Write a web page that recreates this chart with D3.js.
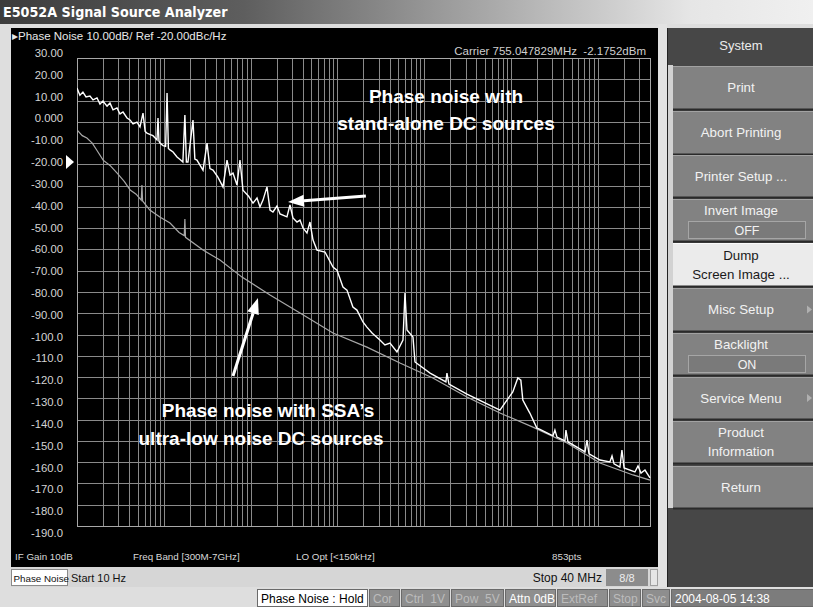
<!DOCTYPE html>
<html>
<head>
<meta charset="utf-8">
<script src="https://cdn.jsdelivr.net/npm/d3@7"></script>
<style>
  body { margin: 0; background: #dedede; overflow: hidden; }
  svg { display: block; }
  text { font-family: "Liberation Sans", Arial, sans-serif; }
</style>
</head>
<body>
<div id="chart"></div>
<script>
// sweep / scale settings
var freqStart = 10;
var freqStop = 4e7;
var refLevels = [30, 20, 10, 0, -10, -20, -30, -40, -50, -60, -70, -80, -90,
  -100, -110, -120, -130, -140, -150, -160, -170, -180, -190];
var refLabels = ["30.00", "20.00", "10.00", "0.000", "-10.00", "-20.00", "-30.00",
  "-40.00", "-50.00", "-60.00", "-70.00", "-80.00", "-90.00", "-100.0", "-110.0",
  "-120.0", "-130.0", "-140.0", "-150.0", "-160.0", "-170.0", "-180.0", "-190.0"];
var refValue = -20;

// trace 1: stand-alone DC sources (white)
var aloneFreq = [10, 10.8, 11.7, 12.7, 14.1, 15.3, 17, 18.4, 19.9, 22.2, 24, 26, 28.9, 31.3, 33.9,
  37.7, 40.8, 44.2, 49.1, 53.2, 57.6, 61, 64, 70, 75, 83.5, 85.8, 88, 90.4, 98, 105, 109, 113,
  118, 128, 142, 154, 166, 175, 182, 190, 217, 228, 241, 283, 315, 340, 369, 420, 481, 535, 580,
  627, 697, 755, 817, 950, 1066, 1186, 1283, 1390, 1545, 1675, 1811, 2015, 2183, 2625, 2843,
  3077, 3425, 3710, 4018, 4463, 4832, 5240, 5821, 7200, 8896, 9890, 11600, 12900, 15100, 16800,
  19700, 21900, 25100, 30900, 35300, 40400, 48600, 57000, 60100, 63400, 74300, 78400, 117000,
  178000, 183000, 193000, 311000, 747000, 899000, 1.05e6, 1.2e6, 1.3e6, 1.37e6, 1.53e6, 1.65e6,
  1.99e6, 2.16e6, 3.05e6, 3.21e6, 3.39e6, 4.19e6, 4.3e6, 4.54e6, 7.13e6, 7.52e6, 7.93e6, 1.06e7,
  1.38e7, 1.46e7, 1.54e7, 1.8e7, 1.9e7, 2.01e7, 2.68e7, 2.91e7, 3.15e7, 3.5e7, 4e7];
var aloneDb = [15.9, 12.5, 14.0, 11.7, 12.1, 10.3, 11.2, 8.4, 9.8, 7.4, 8.8, 5.6, 6.5, 3.7, 4.6,
  1.8, 0.9, -1.0, -0.1, -2.4, 4.1, -4.5, -5.3, -6.0, -6.5, -8.5, 1.8, -9.0, -10.0, -11.2, -11.5, 13.5, -12.5,
  -13.2, -14.2, -16.5, -17.7, -18.9, 3.2, -18.9, -18.9, 0.8, -17.5, -18.0, -22.7, -10.0, -22.0, -22.7, -26.0, -30.6, -18.0, -25.0,
  -24.1, -29.7, -18.0, -32.1, -35.0, -38.2, -35.8, -40.0, -36.8, -30.6, -41.5, -42.4, -39.6, -43.3, -44.7, -39.1,
  -45.2, -47.1, -46.2, -49.9, -52.3, -47.1, -55.6, -60.3, -61.2, -68.3, -69.7, -77.7, -79.1, -87.1, -88.5,
  -94.1, -96.5, -99.3, -102.6, -104.9, -104.0, -108.2, -102.6, -80.5, -97.9, -101.2, -112.9, -118.1,
  -122.3, -118.1, -123.3, -128.0, -135.5, -130.8, -127.0, -120.4, -121.4, -130.8, -134.5, -136.9,
  -144.0, -144.6, -147.6, -144.9, -148.2, -150.0, -144.9, -150.5, -155.2, -149.6, -156.1, -159.0,
  -159.9, -157.1, -160.8, -162.3, -154.3, -162.7, -164.6, -161.8, -165.1, -163.7, -167.4];

// trace 2: SSA's ultra-low noise DC sources (grey)
var ssaFreq = [10, 11.5, 13, 15, 17, 20, 24, 29, 35, 41, 48, 55, 56, 57, 69, 90, 118, 150, 172,
  175, 178, 283, 444, 796, 1675, 3710, 8900, 21900, 52600, 126000, 311000, 747000, 1.79e6,
  4.42e6, 1.06e7, 2.55e7, 4e7];
var ssaDb = [-3.8, -6.5, -7.6, -10.0, -13.5, -18.0, -20.5, -24.1, -28.0, -32.1, -34.0, -36.8, -29.7,
  -37.2, -41.5, -44.7, -47.6, -52.0, -53.5, -45.7, -54.3, -60.3, -65.0, -73.0, -81.4, -89.9, -99.3,
  -105.9, -113.4, -120.4, -129.4, -136.9, -143.5, -151.0, -160.4, -166.0, -168.4];

var W = 813, H = 607;
var plot = { left: 77, right: 650, top: 58, bottom: 526 };

var svg = d3.select("div#chart")
  .append("svg")
  .attr("width", W)
  .attr("height", H);

var defs = svg.append("defs");
var grad = defs.append("linearGradient").attr("id", "titlebar").attr("x1", 0).attr("x2", 1);
grad.append("stop").attr("offset", 0).attr("stop-color", "#3c3c3c");
grad.append("stop").attr("offset", 0.3).attr("stop-color", "#5e5e5e");
grad.append("stop").attr("offset", 0.85).attr("stop-color", "#e6e6e6");
grad.append("stop").attr("offset", 1).attr("stop-color", "#f0f0f0");
defs.append("clipPath").attr("id", "plotclip")
  .append("rect")
  .attr("x", plot.left).attr("y", plot.top - 40)
  .attr("width", plot.right - plot.left + 1).attr("height", plot.bottom - plot.top + 40);

// title bar
svg.append("rect").attr("width", W).attr("height", 24).attr("fill", "url(#titlebar)");
svg.append("text")
  .attr("x", 3).attr("y", 17)
  .style("font-family", "'DejaVu Sans Condensed', 'DejaVu Sans', sans-serif")
  .style("font-weight", "bold")
  .style("font-size", "14.2px")
  .attr("fill", "#ffffff")
  .text("E5052A Signal Source Analyzer");

// black measurement screen
svg.append("rect").attr("x", 11).attr("y", 28).attr("width", 647).attr("height", 539).attr("fill", "#000");

var x = d3.scaleLog().domain([freqStart, freqStop]).range([plot.left, plot.right]);
var y = d3.scaleLinear().domain([30, -190]).range([plot.top, plot.bottom]);
// the level labels are spread slightly wider than the grid on this screen
var yLabel = d3.scaleLinear().domain([30, -190]).range([53, 533]);

var grid = svg.append("g").attr("stroke", "#8a8a8a").attr("stroke-width", 1).attr("shape-rendering", "crispEdges");
grid.selectAll("line.v")
  .data(x.ticks())
  .enter().append("line")
  .attr("class", "v")
  .attr("x1", function (d) { return Math.round(x(d)) + 0.5; })
  .attr("x2", function (d) { return Math.round(x(d)) + 0.5; })
  .attr("y1", plot.top).attr("y2", plot.bottom);
grid.selectAll("line.h")
  .data(refLevels)
  .enter().append("line")
  .attr("class", "h")
  .attr("x1", plot.left).attr("x2", plot.right)
  .attr("y1", function (d) { return Math.round(y(d)) + 0.5; })
  .attr("y2", function (d) { return Math.round(y(d)) + 0.5; });
svg.append("rect")
  .attr("x", plot.left + 0.5).attr("y", plot.top + 0.5)
  .attr("width", plot.right - plot.left).attr("height", plot.bottom - plot.top)
  .attr("fill", "none").attr("stroke", "#a8a8a8");

// level labels
svg.append("g").selectAll("text")
  .data(refLevels)
  .enter().append("text")
  .attr("x", 63)
  .attr("y", function (d) { return yLabel(d) + 4; })
  .attr("text-anchor", "end")
  .attr("fill", "#d4d4d4")
  .style("font-size", "11.3px")
  .text(function (d, i) { return refLabels[i]; });

// reference position marker
var ry = yLabel(refValue);
svg.append("path")
  .attr("d", "M66," + (ry - 7) + "L74," + ry + "L66," + (ry + 7) + "Z")
  .attr("fill", "#fff");

// header texts
svg.append("text").attr("x", 12).attr("y", 40).attr("fill", "#e8e8e8").style("font-size", "11.5px")
  .text("\u25B8Phase Noise 10.00dB/ Ref -20.00dBc/Hz");
svg.append("text").attr("x", 646).attr("y", 55).attr("text-anchor", "end").attr("fill", "#cfcfcf").style("font-size", "11.5px")
  .text("Carrier 755.047829MHz\u00a0\u00a0-2.1752dBm");

// traces
var traceLine = d3.line()
  .x(function (d) { return x(d[0]); })
  .y(function (d) { return y(d[1]); });

var traces = svg.append("g").attr("clip-path", "url(#plotclip)");
traces.append("path")
  .datum(d3.zip(ssaFreq, ssaDb))
  .attr("d", traceLine)
  .attr("fill", "none")
  .attr("stroke", "#a8a8a8")
  .attr("stroke-width", 1.2);
traces.append("path")
  .datum(d3.zip(aloneFreq, aloneDb))
  .attr("d", traceLine)
  .attr("fill", "none")
  .attr("stroke", "#ffffff")
  .attr("stroke-width", 1.4);

// annotations
function arrow(f0, d0, f1, d1) {
  var x0 = x(f0), y0 = y(d0), x1 = x(f1), y1 = y(d1);
  var a = Math.atan2(y1 - y0, x1 - x0), len = 16, half = 6;
  var bx = x1 - len * Math.cos(a), by = y1 - len * Math.sin(a);
  svg.append("line").attr("x1", x0).attr("y1", y0).attr("x2", bx).attr("y2", by)
    .attr("stroke", "#fff").attr("stroke-width", 3);
  svg.append("path")
    .attr("d", "M" + x1 + "," + y1 +
      "L" + (bx + half * Math.sin(a)) + "," + (by - half * Math.cos(a)) +
      "L" + (bx - half * Math.sin(a)) + "," + (by + half * Math.cos(a)) + "Z")
    .attr("fill", "#fff");
}
arrow(21300, -34.9, 2700, -37.7);
arrow(627, -119.5, 1216, -82.8);

var note = svg.append("g")
  .attr("fill", "#fff")
  .attr("text-anchor", "middle")
  .style("font-family", "'DejaVu Sans Condensed', 'Liberation Sans Narrow', sans-serif")
  .style("font-weight", "bold")
  .style("font-size", "19px");
note.append("text").attr("x", 446).attr("y", 103).text("Phase noise with");
note.append("text").attr("x", 446).attr("y", 130).text("stand-alone DC sources");
note.append("text").attr("x", 268).attr("y", 417).text("Phase noise with SSA\u2019s");
note.append("text").attr("x", 261).attr("y", 445).text("ultra-low noise DC sources");

// bottom info line of the screen
var info = svg.append("g").attr("fill", "#d8d8d8").style("font-size", "9.8px");
info.append("text").attr("x", 15).attr("y", 560).text("IF Gain 10dB");
info.append("text").attr("x", 133).attr("y", 560).text("Freq Band [300M-7GHz]");
info.append("text").attr("x", 296).attr("y", 560).text("LO Opt [<150kHz]");
info.append("text").attr("x", 552).attr("y", 560).text("853pts");

// channel status line
svg.append("rect").attr("x", 11).attr("y", 567).attr("width", 656).attr("height", 20).attr("fill", "#d6d6d6");
svg.append("rect").attr("x", 11.5).attr("y", 569.5).attr("width", 56).attr("height", 16)
  .attr("fill", "#fff").attr("stroke", "#8a8a8a");
var stat = svg.append("g").attr("fill", "#111").style("font-size", "11px");
stat.append("text").attr("x", 13.5).attr("y", 582).style("font-size", "9.8px").text("Phase Noise");
stat.append("text").attr("x", 71).attr("y", 582).text("Start 10 Hz");
stat.append("text").attr("x", 602).attr("y", 582).attr("text-anchor", "end").style("font-size", "12px").text("Stop 40 MHz");
svg.append("rect").attr("x", 606).attr("y", 569).attr("width", 42).attr("height", 17).attr("fill", "#8c8c8c");
svg.append("text").attr("x", 627).attr("y", 582).attr("text-anchor", "middle").attr("fill", "#eee")
  .style("font-size", "11px").text("8/8");
svg.append("rect").attr("x", 650.5).attr("y", 569.5).attr("width", 7).attr("height", 16)
  .attr("fill", "#e6e6e6").attr("stroke", "#a0a0a0");

// soft key panel
svg.append("rect").attr("x", 658).attr("y", 24).attr("width", 9).attr("height", 563).attr("fill", "#e2e2e2");
svg.append("rect").attr("x", 667).attr("y", 28).attr("width", 146).attr("height", 559).attr("fill", "#474747");
svg.append("rect").attr("x", 667).attr("y", 65).attr("width", 6).attr("height", 443).attr("fill", "#d2d2d2");
svg.append("line").attr("x1", 667.5).attr("x2", 667.5).attr("y1", 28).attr("y2", 587).attr("stroke", "#222");
svg.append("text").attr("x", 741).attr("y", 50).attr("text-anchor", "middle").attr("fill", "#ececec")
  .style("font-size", "13px").text("System");

var keys = [
  { lines: ["Print"], top: 66, bottom: 109 },
  { lines: ["Abort Printing"], top: 111, bottom: 154 },
  { lines: ["Printer Setup ..."], top: 155, bottom: 197 },
  { lines: ["Invert Image"], box: "OFF", top: 199, bottom: 241 },
  { lines: ["Dump", "Screen Image ..."], top: 243, bottom: 286, lit: true },
  { lines: ["Misc Setup"], more: true, top: 288, bottom: 331 },
  { lines: ["Backlight"], box: "ON", top: 333, bottom: 375 },
  { lines: ["Service Menu"], more: true, top: 377, bottom: 419 },
  { lines: ["Product", "Information"], top: 421, bottom: 463 },
  { lines: ["Return"], top: 466, bottom: 508 }
];

var key = svg.append("g").selectAll("g")
  .data(keys)
  .enter().append("g");
key.append("rect")
  .attr("x", 673).attr("y", function (d) { return d.top; })
  .attr("width", 140).attr("height", function (d) { return d.bottom - d.top; })
  .attr("fill", function (d) { return d.lit ? "#ebebeb" : "#828282"; });
key.append("line")
  .attr("x1", 673).attr("x2", 813)
  .attr("y1", function (d) { return d.top + 0.5; }).attr("y2", function (d) { return d.top + 0.5; })
  .attr("stroke", function (d) { return d.lit ? "#fafafa" : "#a2a2a2"; });
key.append("line")
  .attr("x1", 673).attr("x2", 813)
  .attr("y1", function (d) { return d.bottom + 0.5; }).attr("y2", function (d) { return d.bottom + 0.5; })
  .attr("stroke", "#2a2a2a").attr("stroke-width", 2);
key.each(function (d) {
  var g = d3.select(this);
  var n = d.lines.length + (d.box ? 1 : 0);
  var mid = (d.top + d.bottom) / 2;
  d.lines.forEach(function (t, i) {
    g.append("text")
      .attr("x", 741)
      .attr("y", mid + 4.5 + (i - (n - 1) / 2) * 19)
      .attr("text-anchor", "middle")
      .attr("fill", d.lit ? "#1a1a1a" : "#f2f2f2")
      .style("font-size", "13.3px")
      .text(t);
  });
  if (d.box) {
    g.append("rect").attr("x", 688.5).attr("y", mid + 1.5).attr("width", 117).attr("height", 17)
      .attr("fill", "#7a7a7a").attr("stroke", "#a6a6a6");
    g.append("text").attr("x", 747).attr("y", mid + 14.5).attr("text-anchor", "middle")
      .attr("fill", "#f2f2f2").style("font-size", "12.5px").text(d.box);
  }
  if (d.more) {
    g.append("path").attr("d", "M807," + (mid - 4) + "L812," + mid + "L807," + (mid + 4) + "Z")
      .attr("fill", "#b0b0b0");
  }
});

// instrument status bar
var statusItems = [
  { t: "Phase Noise : Hold", w: 110, fill: "#fff", ink: "#000" },
  { t: "Cor", w: 30, fill: "#8e8e8e", ink: "#bcbcbc" },
  { t: "Ctrl\u00a0\u00a01V", w: 48, fill: "#8e8e8e", ink: "#bcbcbc" },
  { t: "Pow\u00a0\u00a05V", w: 52, fill: "#8e8e8e", ink: "#bcbcbc" },
  { t: "Attn 0dB", w: 50, fill: "#8e8e8e", ink: "#ffffff" },
  { t: "ExtRef", w: 50, fill: "#8e8e8e", ink: "#bcbcbc" },
  { t: "Stop", w: 31, fill: "#8e8e8e", ink: "#bcbcbc" },
  { t: "Svc", w: 27, fill: "#8e8e8e", ink: "#bcbcbc" },
  { t: "2004-08-05 14:38", w: 150, fill: "#7c7c7c", ink: "#ffffff" }
];
var sx = 257;
statusItems.forEach(function (s) { s.x = sx; sx += s.w + 2; });
var sb = svg.append("g").selectAll("g").data(statusItems).enter().append("g");
sb.append("rect")
  .attr("x", function (d) { return d.x + 0.5; }).attr("y", 589.5)
  .attr("width", function (d) { return d.w; }).attr("height", 17)
  .attr("fill", function (d) { return d.fill; })
  .attr("stroke", "#6a6a6a");
sb.append("text")
  .attr("x", function (d) { return d.x + 4; }).attr("y", 602.5)
  .attr("fill", function (d) { return d.ink; })
  .style("font-size", "12px")
  .text(function (d) { return d.t; });
</script>
</body>
</html>
